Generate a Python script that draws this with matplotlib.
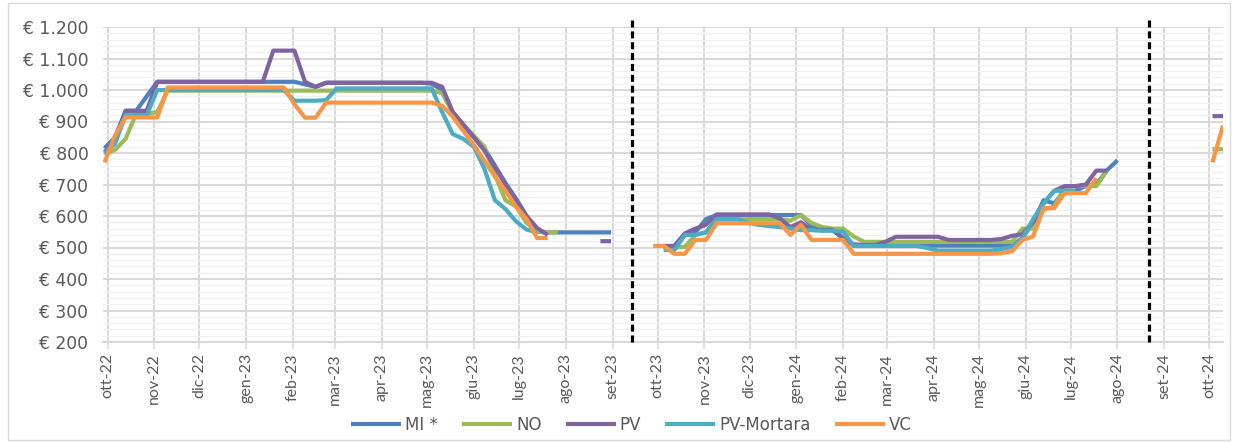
import numpy as np
import pandas as pd
import matplotlib
matplotlib.use("Agg")
import matplotlib.pyplot as plt
from matplotlib.ticker import FuncFormatter, MultipleLocator
from matplotlib.patches import Rectangle

plt.rcParams['font.family'] = ['Lato', 'DejaVu Sans']

n = None
# weekly dates (Thursdays)
dates = pd.date_range('2022-09-29', periods=107, freq='7D')

mi = [815, 850, 934, 934, 980, 1026,
      1026, 1026, 1026, 1026, 1026, 1026, 1026, 1026, 1026, 1026, 1026, 1026,
      1026, 1018, 1010, 1023,
      1023, 1023, 1023, 1023, 1023, 1023, 1023, 1023, 1023,
      1020, 1000, 930, 890, 850, 815, 760, 705, 655, 600, 550,
      548, 548, 548, 548, 548, 548, 548,
      n, n, n, n,
      497, 497, 540, 548, 590,
      603, 603, 603, 603, 603, 603, 603, 603, 603,
      570, 556, 556, 530,
      506, 506, 506, 506, 506, 506, 506, 506, 506, 506, 506, 506, 506, 506, 506, 506,
      530, 580, 650, 640, 680, 680, 695, 700, 745, 777,
      n, n, n, n, n, n, n, n, n, n]

no = [794, 810, 845, 925, 925, 930,
      998, 998, 998, 998, 998, 998, 998, 998, 998, 998, 998, 998, 998,
      998, 998, 998, 998, 998, 998, 998, 998, 998, 998, 998, 998, 998,
      990, 927, 890, 855, 820, 730, 650, 630, 578, 552, 548, 548,
      n, n, n, n, n, n, n, n, n, n,
      500, 502, 540, 548,
      590, 590, 590, 590, 590, 590, 590,
      585, 603, 578, 565, 560, 560, 535,
      518, 518, 518, 518, 518, 518, 518, 518, 518, 518, 518, 518, 518, 518, 518,
      560, 560, 620, 630, 692, 695, 695, 695, 744,
      n, n, n, n, n, n, n, n, n,
      812, 812]

pv = [804, 836, 934, 934, 934, 1026,
      1026, 1026, 1026, 1026, 1026, 1026, 1026, 1026, 1026, 1026,
      1125, 1125, 1125, 1026, 1010, 1023,
      1023, 1023, 1023, 1023, 1023, 1023, 1023, 1023, 1023, 1023,
      1010, 930, 890, 850, 808, 755, 700, 650, 600, 562, 540,
      n, n, n, n,
      520, 520,
      n, n, n, n,
      505, 505, 545, 560, 572,
      605, 605, 605, 605, 605, 605,
      592, 565, 580, 556, 556, 556, 528, 510, 508, 508, 518,
      534, 534, 534, 534, 534,
      524, 524, 524, 524, 524,
      527, 537, 542, 580, 640, 680, 695, 695, 700, 744, 744,
      n, n, n, n, n, n, n, n, n,
      917, 917]

pvm = [800, 830, 920, 920, 920, 1000,
       1000, 1000, 1000, 1000, 1000, 1000, 1000, 1000, 1000, 1000, 1000, 1000,
       966, 966, 966, 968,
       1005, 1005, 1005, 1005, 1005, 1005, 1005, 1005, 1005, 1005,
       930, 860, 845, 820, 750, 650, 622, 583, 557, 548,
       n, n, n, n, n, n, n, n, n, n, n,
       492, 492, 540, 540, 548, 590, 590, 590, 578, 572, 568, 565, 560, 555, 555, 553, 553, 550,
       505, 505, 505, 505, 505, 505, 505,
       498,
       490, 490, 490, 490, 490, 490,
       495, 502, 530, 590, 640, 680, 680, 680,
       n, n, n, n, n, n, n, n, n, n, n, n, n, n]

vc = [770, 855, 913, 913, 913, 913,
      1008, 1008, 1008, 1008, 1008, 1008, 1008, 1008, 1008, 1008, 1008, 1008,
      955, 912, 912, 960,
      960, 960, 960, 960, 960, 960, 960, 960, 960, 960,
      950, 915, 870, 825, 775, 725, 680, 630, 590, 530, 530,
      n, n, n, n, n, n, n, n, n,
      505, 505, 480, 480, 524, 524,
      577, 577, 577, 577, 577, 577, 577,
      540, 572,
      524, 524, 524, 524,
      480, 480, 480, 480, 480, 480, 480, 480, 480, 480, 480, 480, 480, 480,
      482, 488, 524, 535, 625, 625, 673, 673, 673, 720,
      n, n, n, n, n, n, n, n, n, n,
      770, 887]

series_names = ['MI *', 'NO', 'PV', 'PV-Mortara', 'VC']
series_values = [mi, no, pv, pvm, vc]
colors = ['#4F81BD', '#9BBB59', '#8064A2', '#4BACC6', '#F79646']

# vertical dashed separators
separator_dates = ['2023-09-14', '2024-08-22']

month_ticks = pd.date_range('2022-10-01', '2024-10-01', freq='MS')
month_labels = ['ott-22', 'nov-22', 'dic-22', 'gen-23', 'feb-23', 'mar-23', 'apr-23',
                'mag-23', 'giu-23', 'lug-23', 'ago-23', 'set-23', 'ott-23', 'nov-23',
                'dic-23', 'gen-24', 'feb-24', 'mar-24', 'apr-24', 'mag-24', 'giu-24',
                'lug-24', 'ago-24', 'set-24', 'ott-24']

W, H = 1238, 443
fig = plt.figure(figsize=(W / 100, H / 100), dpi=100)
fig.patch.set_facecolor('white')
ax = fig.add_axes([103 / W, 1 - 342 / H, (1223 - 103) / W, (342 - 27) / H])

# chart outer border
fig.add_artist(Rectangle((8 / W, 3 / H), (1230 - 8) / W, (440 - 3) / H,
                         transform=fig.transFigure, fill=False,
                         edgecolor='#D9D9D9', linewidth=1))

for name, vals, c in zip(series_names, series_values, colors):
    y = np.array([np.nan if v is None else v for v in vals], dtype=float)
    ax.plot(dates, y, color=c, linewidth=3.0, label=name,
            solid_capstyle='butt', solid_joinstyle='round', zorder=3)

for d in separator_dates:
    ax.plot([pd.Timestamp(d), pd.Timestamp(d)], [200, 1222], color='black',
            linestyle=(0, (2.2, 1.2)), linewidth=2.3, clip_on=False, zorder=4)

ax.set_ylim(200, 1200)
ax.set_xlim(pd.Timestamp('2022-09-28'), pd.Timestamp('2024-10-10'))

ax.yaxis.set_major_locator(MultipleLocator(100))
ax.yaxis.set_minor_locator(MultipleLocator(20))
ax.yaxis.set_major_formatter(FuncFormatter(
    lambda v, p: '€ ' + f'{int(round(v)):,}'.replace(',', '.')))

ax.set_xticks(month_ticks)
ax.set_xticklabels(month_labels, rotation=90)

ax.grid(which='major', axis='both', color='#D9D9D9', linewidth=1.5, zorder=0)
ax.grid(which='minor', axis='y', color='#F0F0F0', linewidth=1.0, zorder=0)
ax.set_axisbelow(True)

for s in ['top', 'right', 'left']:
    ax.spines[s].set_visible(False)
ax.spines['bottom'].set_color('#D9D9D9')
ax.spines['bottom'].set_linewidth(1.5)

ax.tick_params(axis='y', which='both', length=0, labelsize=12.3, colors='#595959', pad=10.5)
for t in ax.get_yticklabels():
    t.set_fontfamily(['DejaVu Sans'])
ax.tick_params(axis='x', which='major', length=5, width=1.2, color='#D9D9D9',
               labelsize=11.5, labelcolor='#595959', pad=3)
ax.tick_params(axis='x', which='minor', length=0)

leg = fig.legend(loc='center', bbox_to_anchor=(0.51, 1 - 425 / H), ncol=5,
                 frameon=False, prop={'family': ['DejaVu Sans'], 'size': 12},
                 handlelength=3.0, handletextpad=0.25, columnspacing=1.45)
for t in leg.get_texts():
    t.set_color('#595959')

fig.savefig('out.png', dpi=100, facecolor='white')
